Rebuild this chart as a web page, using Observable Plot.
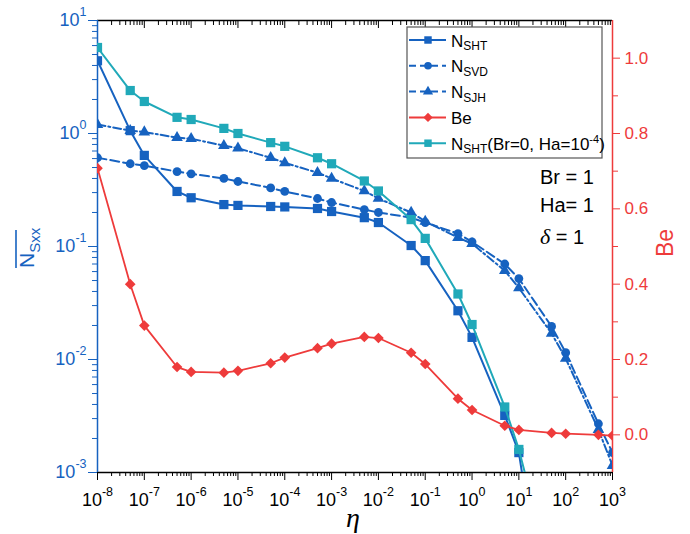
<!DOCTYPE html>
<html><head><meta charset="utf-8">
<script src="https://cdn.jsdelivr.net/npm/d3@7"></script>
<script src="https://cdn.jsdelivr.net/npm/@observablehq/plot@0.6"></script>
<style>body{margin:0;background:#fff} #chart{width:690px;height:534px}</style>
</head><body><div id="chart"></div>
<script>
// ---- data ----
const eta = [1e-8,5e-8,1e-7,5e-7,1e-6,5e-6,1e-5,5e-5,1e-4,5e-4,1e-3,5e-3,1e-2,5e-2,1e-1,5e-1,1,5,10,50,100,500,1000];
const nSHT   = [4.4,1.06,0.64,0.307,0.27,0.235,0.231,0.226,0.224,0.217,0.204,0.18,0.163,0.102,0.075,0.027,0.0157,0.0032,0.0015,2e-5];
const nSVD   = [0.61,0.54,0.52,0.46,0.44,0.40,0.376,0.33,0.307,0.266,0.245,0.212,0.2,0.18,0.163,0.13,0.11,0.07,0.052,0.0196,0.0115,0.0027,0.0015];
const nSJH   = [1.2,1.06,1.03,0.92,0.9,0.78,0.74,0.61,0.55,0.45,0.40,0.31,0.266,0.2,0.167,0.12,0.106,0.061,0.043,0.017,0.0102,0.0024,0.00115];
const be     = [0.708,0.40,0.29,0.18,0.167,0.165,0.17,0.19,0.205,0.23,0.242,0.26,0.257,0.218,0.188,0.096,0.066,0.024,0.013,0.005,0.003,0.0,-0.002];
const nSHT0  = [5.77,2.4,1.92,1.39,1.33,1.11,1.0,0.83,0.77,0.61,0.54,0.38,0.31,0.173,0.118,0.038,0.0204,0.0038,0.0016,1.2e-4];

const xExp = [-8,-7,-6,-5,-4,-3,-2,-1,0,1,2,3];
const yExp = [-3,-2,-1,0,1];
const beMajor = [0.0,0.2,0.4,0.6,0.8,1.0];
const beMinor = [0.1,0.3,0.5,0.7,0.9];
const xDomain = [1e-8, 1e3];
const yDomain = [1e-3, 10];
const beDomain = [-0.1, 1.1];

// ---- styles ----
const blue = "#1662c0", cyan = "#20a9b9", red = "#ee3b3b";
const font = "Liberation Sans, Arial, sans-serif";

// map Be (right axis) into the left log scale's value space
const L0 = Math.log10(yDomain[0]), L1 = Math.log10(yDomain[1]);
const beToY = v => Math.pow(10, L0 + (v - beDomain[0]) / (beDomain[1] - beDomain[0]) * (L1 - L0));

const rows = ys => ys.map((y, i) => ({x: eta[i], y}));
const beRows = be.map((v, i) => ({x: eta[i], y: beToY(v)}));

const xMajor = xExp.map(k => Math.pow(10, k));
const xMinor = [];
for (let k = -8; k < 3; k++) for (let m = 2; m <= 9; m++) xMinor.push(m * Math.pow(10, k));
const yMajor = yExp.map(k => Math.pow(10, k));
const yMinor = [];
for (let k = -3; k < 1; k++) for (let m = 2; m <= 9; m++) yMinor.push(m * Math.pow(10, k));

const pow = d => "10^" + Math.round(Math.log10(d));

const chart = Plot.plot({
  width: 690, height: 534,
  marginLeft: 97, marginRight: 78, marginTop: 20, marginBottom: 62,
  style: {fontFamily: font, background: "white"},
  x: {type: "log", domain: xDomain, axis: null},
  y: {type: "log", domain: yDomain, axis: null},
  marks: [
    // axes
    Plot.axisX({anchor: "bottom", ticks: xMajor, tickSize: 8, tickPadding: 13, tickFormat: pow, fontSize: 18, color: "black", label: null}),
    Plot.axisX({anchor: "bottom", ticks: xMinor, tickSize: 4, stroke: "black", fill: "none", label: null}),
    Plot.axisX({anchor: "top", ticks: xMajor, tickSize: 7, dy: 7, stroke: "black", fill: "none", label: null}),
    Plot.axisX({anchor: "top", ticks: xMinor, tickSize: 4, dy: 4, stroke: "black", fill: "none", label: null}),
    Plot.axisY({anchor: "left", ticks: yMajor, tickSize: 9, tickPadding: 2, tickFormat: pow, fontSize: 18, color: blue, label: null}),
    Plot.axisY({anchor: "left", ticks: yMinor, tickSize: 5, stroke: blue, fill: "none", label: null}),
    Plot.axisY({anchor: "right", ticks: beMajor.map(beToY), tickSize: 7, stroke: red, fill: "none", label: null}),
    Plot.axisY({anchor: "right", ticks: beMinor.map(beToY), tickSize: 5, stroke: red, fill: "none", label: null}),
    Plot.text(beMajor, {y: d => beToY(d), text: d => d.toFixed(1), frameAnchor: "right", dx: 12, textAnchor: "start", fill: red, fontSize: 17}),
    // frame
    Plot.ruleY([yDomain[0]], {stroke: "black", strokeWidth: 1.5}),
    Plot.ruleY([yDomain[1]], {stroke: "black", strokeWidth: 1.5}),
    Plot.ruleX([xDomain[0]], {stroke: blue, strokeWidth: 1.5}),
    Plot.ruleX([xDomain[1]], {stroke: red, strokeWidth: 1.5}),
    // series
    Plot.line(rows(nSHT), {x: "x", y: "y", stroke: blue, strokeWidth: 2, clip: true}),
    Plot.dot(rows(nSHT), {x: "x", y: "y", symbol: "square", fill: blue, r: 5.2, clip: true}),
    Plot.line(rows(nSVD), {x: "x", y: "y", stroke: blue, strokeWidth: 2, strokeDasharray: "9,4", clip: true}),
    Plot.dot(rows(nSVD), {x: "x", y: "y", symbol: "circle", fill: blue, r: 4.4, clip: true}),
    Plot.line(rows(nSJH), {x: "x", y: "y", stroke: blue, strokeWidth: 2, strokeDasharray: "8,3,2,3", clip: true}),
    Plot.dot(rows(nSJH), {x: "x", y: "y", symbol: "triangle", fill: blue, r: 4.3, clip: true}),
    Plot.line(rows(nSHT0), {x: "x", y: "y", stroke: cyan, strokeWidth: 2, clip: true}),
    Plot.dot(rows(nSHT0), {x: "x", y: "y", symbol: "square", fill: cyan, r: 5.2, clip: true}),
    Plot.line(beRows, {x: "x", y: "y", stroke: red, strokeWidth: 1.8, clip: true}),
    Plot.dot(beRows, {x: "x", y: "y", symbol: "diamond2", fill: red, r: 4.8, clip: true})
  ]
});
document.getElementById("chart").appendChild(chart);

// superscript tick labels
const svg = d3.select(chart);
svg.selectAll("text").each(function() {
  const m = (this.textContent || "").match(/^10\^(-?\d+)$/);
  if (!m) return;
  const t = d3.select(this);
  t.text("");
  t.append("tspan").text("10");
  t.append("tspan").attr("dy", "-10").attr("font-size", "12.5").text(m[1]);
});

// legend
const lg = svg.append("g").attr("font-family", font).attr("text-anchor", "start");
lg.append("rect").attr("x", 407).attr("y", 27).attr("width", 195).attr("height", 131)
  .attr("fill", "white").attr("stroke", "#555").attr("stroke-width", 1.2);
const entries = [
  {sym: d3.symbolSquare, r: 4.2, color: blue, dash: null, main: "N", sub: "SHT"},
  {sym: d3.symbolCircle, r: 3.8, color: blue, dash: "7,4", main: "N", sub: "SVD"},
  {sym: d3.symbolTriangle, r: 3.8, color: blue, dash: "7,4", main: "N", sub: "SJH"},
  {sym: d3.symbolDiamond2, r: 4.2, color: red, dash: null, main: "Be", sub: ""},
  {sym: d3.symbolSquare, r: 4.2, color: cyan, dash: null, main: "N", sub: "SHT", extra: true}
];
entries.forEach((e, i) => {
  const y = 40 + i * 25.8;
  lg.append("line").attr("x1", 409).attr("x2", 446).attr("y1", y).attr("y2", y)
    .attr("stroke", e.color).attr("stroke-width", 2).attr("stroke-dasharray", e.dash);
  lg.append("path").attr("d", d3.symbol().type(e.sym).size(Math.PI * e.r * e.r)())
    .attr("transform", `translate(428,${y})`).attr("fill", e.color);
  const t = lg.append("text").attr("x", 451).attr("y", y + 6.5).attr("font-size", 17).attr("fill", "black");
  t.append("tspan").text(e.main);
  if (e.sub) t.append("tspan").attr("font-size", 12).attr("dy", 3.5).text(e.sub);
  if (e.extra) {
    t.append("tspan").attr("dy", -3.5).text("(Br=0, Ha=10");
    t.append("tspan").attr("font-size", 11).attr("dy", -7).text("-4");
    t.append("tspan").attr("dy", 7).text(")");
  }
});

// parameter annotations
const ann = svg.append("g").attr("font-family", font).attr("font-size", 20).attr("fill", "black").attr("text-anchor", "start");
ann.append("text").attr("x", 540).attr("y", 184).text("Br = 1");
ann.append("text").attr("x", 540).attr("y", 212).text("Ha= 1");
const dt = ann.append("text").attr("x", 540).attr("y", 244);
dt.append("tspan").attr("font-family", "Liberation Serif, serif").attr("font-style", "italic").attr("font-size", 22).text("δ");
dt.append("tspan").text(" = 1");

// axis titles
svg.append("text").attr("x", 353).attr("y", 527).attr("text-anchor", "middle")
  .attr("font-family", "Liberation Serif, serif").attr("font-style", "italic").attr("font-size", 28).text("η");

const yl = svg.append("g").attr("transform", "translate(34,268) rotate(-90)").attr("fill", blue)
  .attr("font-family", font).attr("text-anchor", "start");
const ylt = yl.append("text").attr("x", 0).attr("y", 0).attr("font-size", 21);
ylt.append("tspan").text("N");
ylt.append("tspan").attr("font-size", 15).attr("dy", 6).text("Sxx");
yl.append("line").attr("x1", 0).attr("x2", 38).attr("y1", -18).attr("y2", -18).attr("stroke", blue).attr("stroke-width", 1.6);

svg.append("text").attr("transform", "translate(673,243) rotate(-90)").attr("text-anchor", "middle")
  .attr("font-family", font).attr("font-size", 23).attr("fill", red).text("Be");
</script>
</body></html>
